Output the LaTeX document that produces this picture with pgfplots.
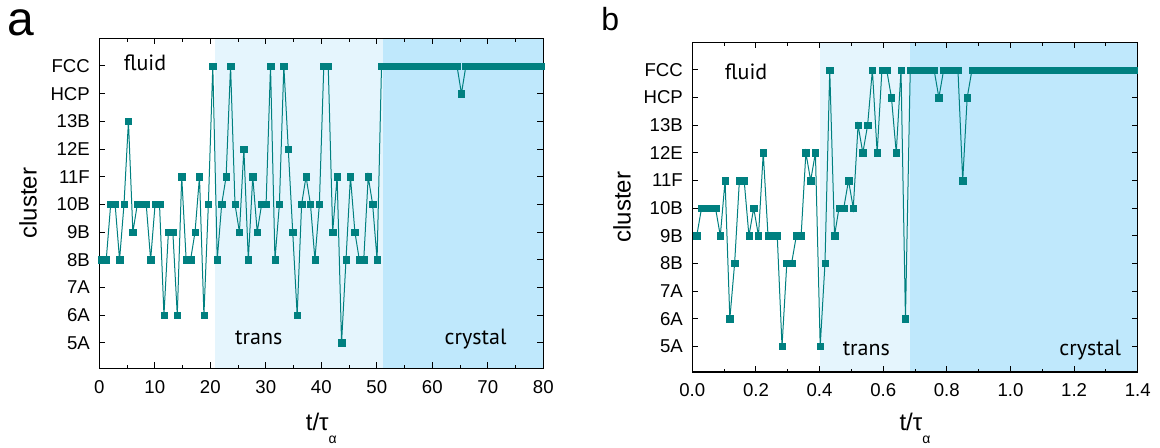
\documentclass[border=0pt]{standalone}
\usepackage{fontspec}
\setmainfont{Liberation Sans}
\newfontfamily\annfont{PT Sans}
\usepackage{pgfplots}
\pgfplotsset{compat=1.18}
\definecolor{tealc}{RGB}{0,128,128}
\definecolor{transc}{RGB}{229,245,253}
\definecolor{crystc}{RGB}{191,232,252}
\pgfplotsset{
  common/.style={
    scale only axis, anchor=south west,
    ymin=0.075, ymax=12,
    ytick={1,...,11},
    yticklabels={5A,6A,7A,8B,9B,10B,11F,12E,13B,HCP,FCC},
    axis on top,
    tick align=inside,
    major tick length=3pt, minor tick length=1.6pt,
    every tick/.style={black, line width=0.5pt},
    axis line style={line width=0.6pt},
    /pgf/number format/assume math mode=true,
    tick label style={font=\fontsize{9.3}{11}\selectfont},
    yticklabel style={xshift=-1.2pt},
    xticklabel style={yshift=-2.5pt},
    ylabel={cluster},
    xlabel={t/τ\raisebox{-6.5pt}{\fontsize{7}{8}\selectfont α}},
    label style={font=\fontsize{12}{14}\selectfont},
    clip=true,
  },
  ser/.style={tealc, line width=0.5pt, mark=square*, mark size=1.6pt,
    mark options={fill=tealc, draw=tealc, line width=0.2pt}},
}
\begin{document}
\begin{tikzpicture}
\begin{axis}[common, at={(49.65pt,-184.15pt)}, width=222pt, height=165pt,
  xmin=0, xmax=80, xtick={0,10,...,80}, minor x tick num=1,
  ylabel style={at={(axis description cs:-0.1606,0.5)}, anchor=center},
  xlabel style={at={(axis description cs:0.5,-0.187)}, anchor=base}]
\addplot[fill=transc, draw=none] coordinates {(20.85,12.5) (51.06,12.5)} \closedcycle;
\addplot[fill=crystc, draw=none] coordinates {(51.06,12.5) (81,12.5)} \closedcycle;
\addplot[ser] coordinates {
(0.45,4) (1.25,4) (2.05,6) (2.85,6) (3.65,4) (4.45,6) (5.25,9) (6.05,5) (6.85,6) (7.65,6)
(8.45,6) (9.25,4) (10.05,6) (10.85,6) (11.65,2) (12.45,5) (13.25,5) (14.05,2) (14.85,7) (15.65,4)
(16.45,4) (17.25,5) (18.05,7) (18.85,2) (19.65,6) (20.45,11) (21.25,4) (22.05,6) (22.85,7) (23.65,11)
(24.45,6) (25.25,5) (26.05,8) (26.85,4) (27.65,7) (28.45,5) (29.25,6) (30.05,6) (30.85,11) (31.65,4)
(32.45,6) (33.25,11) (34.05,8) (34.85,5) (35.65,2) (36.45,6) (37.25,7) (38.05,6) (38.85,4) (39.65,6)
(40.45,11) (41.25,11) (42.05,5) (42.85,7) (43.65,1) (44.45,4) (45.25,7) (46.05,5) (46.85,4) (47.65,4)
(48.45,7) (49.25,6) (50.05,4) (50.85,11) (51.65,11) (52.45,11) (53.25,11) (54.05,11) (54.85,11) (55.65,11)
(56.45,11) (57.25,11) (58.05,11) (58.85,11) (59.65,11) (60.45,11) (61.25,11) (62.05,11) (62.85,11) (63.65,11)
(64.45,11) (65.25,10) (66.05,11) (66.85,11) (67.65,11) (68.45,11) (69.25,11) (70.05,11) (70.85,11) (71.65,11)
(72.45,11) (73.25,11) (74.05,11) (74.85,11) (75.65,11) (76.45,11) (77.25,11) (78.05,11) (78.85,11) (79.65,11)
};
\node[font=\annfont\fontsize{11}{13}\selectfont, anchor=base] at (axis cs:8.23,10.83) {fluid};
\node[font=\annfont\fontsize{11}{13}\selectfont, anchor=base] at (axis cs:28.74,0.95) {trans};
\node[font=\annfont\fontsize{11}{13}\selectfont, anchor=base] at (axis cs:67.8,0.92) {crystal};
\end{axis}
\begin{axis}[common, at={(346.15pt,-185.95pt)}, width=222.7pt, height=164.8pt,
  xmin=0, xmax=1.4, xtick={0,0.2,0.4,0.6,0.8,1.0,1.2,1.4}, minor x tick num=1,
  xticklabel style={/pgf/number format/.cd, fixed, fixed zerofill, precision=1},
  ylabel style={at={(axis description cs:-0.158,0.5)}, anchor=center},
  xlabel style={at={(axis description cs:0.5,-0.179)}, anchor=base}]
\addplot[fill=transc, draw=none] coordinates {(0.4015,12.5) (0.684,12.5)} \closedcycle;
\addplot[fill=crystc, draw=none] coordinates {(0.684,12.5) (1.45,12.5)} \closedcycle;
\addplot[ser] coordinates {
(0.014,5) (0.029,6) (0.044,6) (0.059,6) (0.073,6) (0.088,5) (0.103,7) (0.118,2) (0.133,4) (0.148,7)
(0.163,7) (0.178,5) (0.193,6) (0.208,5) (0.223,8) (0.238,5) (0.253,5) (0.267,5) (0.282,1) (0.297,4)
(0.312,4) (0.327,5) (0.342,5) (0.357,8) (0.372,7) (0.387,8) (0.402,1) (0.417,4) (0.432,11) (0.447,5)
(0.461,6) (0.476,6) (0.491,7) (0.506,6) (0.521,9) (0.536,8) (0.551,9) (0.566,11) (0.581,8) (0.596,11)
(0.611,11) (0.626,10) (0.641,8) (0.656,11) (0.670,2) (0.685,11) (0.700,11) (0.715,11) (0.730,11) (0.745,11)
(0.760,11) (0.775,10) (0.790,11) (0.805,11) (0.820,11) (0.835,11) (0.850,7) (0.864,10) (0.879,11) (0.894,11)
(0.909,11) (0.924,11) (0.939,11) (0.954,11) (0.969,11) (0.984,11) (0.999,11) (1.014,11) (1.029,11) (1.044,11)
(1.058,11) (1.073,11) (1.088,11) (1.103,11) (1.118,11) (1.133,11) (1.148,11) (1.163,11) (1.178,11) (1.193,11)
(1.208,11) (1.223,11) (1.238,11) (1.252,11) (1.267,11) (1.282,11) (1.297,11) (1.312,11) (1.327,11) (1.342,11)
(1.357,11) (1.372,11) (1.387,11) (1.402,11)
};
\node[font=\annfont\fontsize{11}{13}\selectfont, anchor=base] at (axis cs:0.169,10.67) {fluid};
\node[font=\annfont\fontsize{11}{13}\selectfont, anchor=base] at (axis cs:0.547,0.685) {trans};
\node[font=\annfont\fontsize{11}{13}\selectfont, anchor=base] at (axis cs:1.251,0.685) {crystal};
\end{axis}
\node[anchor=base west, inner sep=0pt, font=\fontsize{24}{27}\selectfont] at (3.5pt,-17.5pt) {a};
\node[anchor=base west, inner sep=0pt, font=\fontsize{16}{19}\selectfont] at (300.5pt,-15.35pt) {b};
\pgfresetboundingbox
\path[use as bounding box] (0,0) rectangle (580pt,-223.5pt);
\end{tikzpicture}
\end{document}
